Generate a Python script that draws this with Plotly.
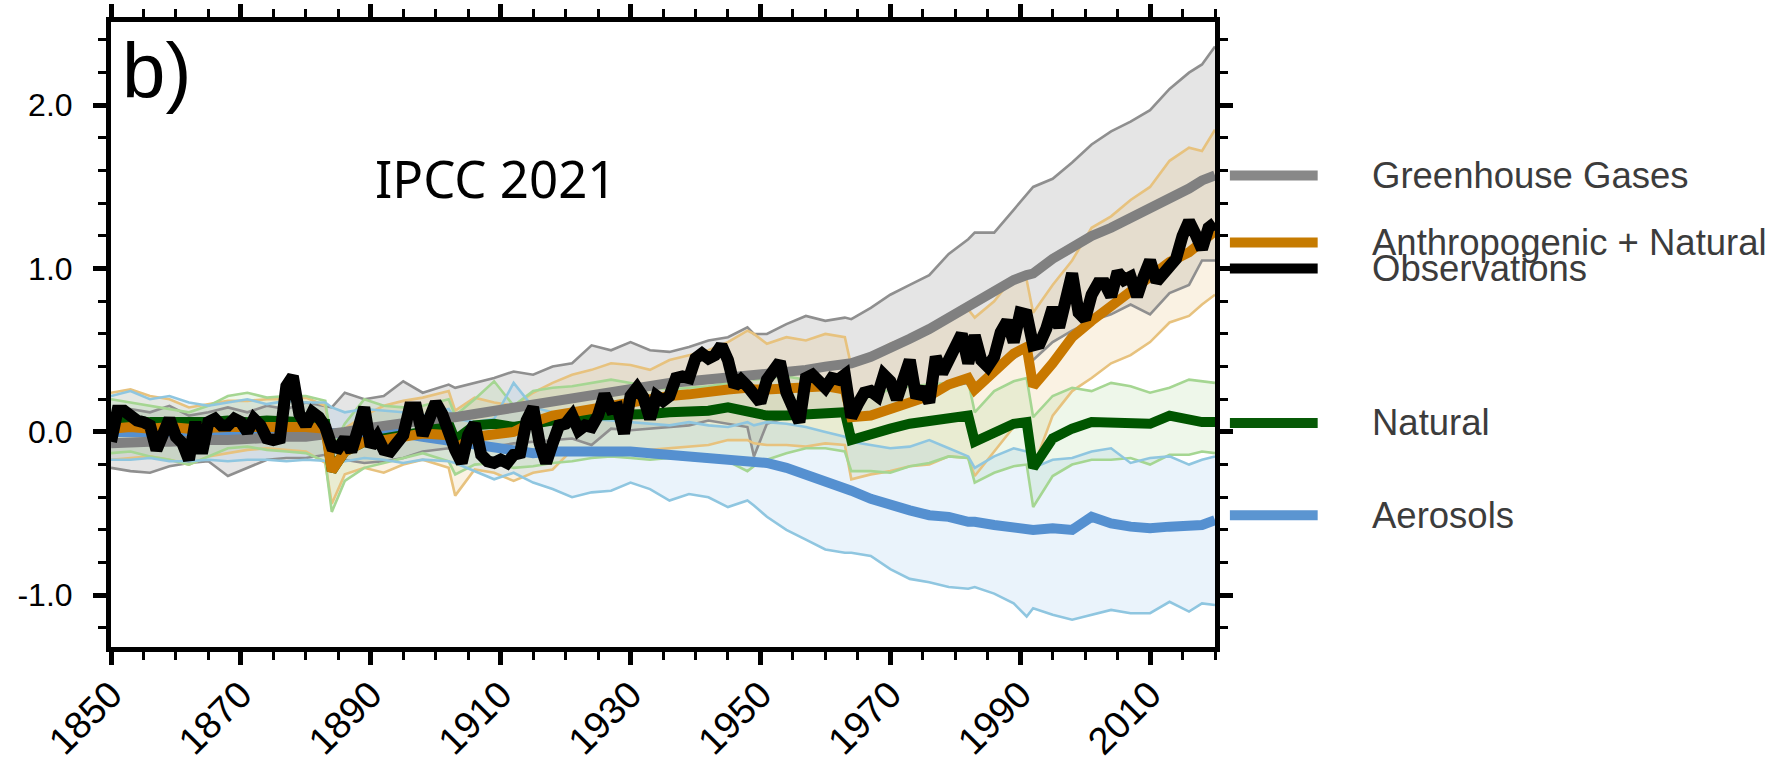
import plotly.graph_objects as go

# ---------------- data ----------------
YEARS = [1850, 1853, 1856, 1859, 1862, 1865, 1868, 1871, 1874, 1877,
         1880, 1883, 1884, 1886, 1889, 1892, 1895, 1898, 1902, 1903,
         1906, 1909, 1912, 1915, 1918, 1921, 1924, 1927, 1930, 1933,
         1936, 1939, 1942, 1945, 1948, 1949, 1951, 1954, 1957, 1960,
         1963, 1964, 1967, 1970, 1973, 1976, 1979, 1982, 1983, 1986,
         1989, 1991, 1992, 1995, 1998, 2001, 2004, 2007, 2010, 2013,
         2016, 2018, 2020]

GHG_MEAN = [-0.07, -0.06, -0.06, -0.06, -0.05, -0.05, -0.05, -0.04, -0.04, -0.03,
            -0.03, -0.02, -0.02, 0.00, 0.02, 0.04, 0.06, 0.07, 0.09, 0.09,
            0.11, 0.13, 0.15, 0.17, 0.19, 0.21, 0.23, 0.25, 0.27, 0.28,
            0.30, 0.31, 0.32, 0.33, 0.35, 0.35, 0.36, 0.37, 0.38, 0.40,
            0.42, 0.42, 0.46, 0.51, 0.57, 0.63, 0.70, 0.77, 0.79, 0.86,
            0.93, 0.96, 0.97, 1.06, 1.13, 1.20, 1.25, 1.31, 1.36, 1.42,
            1.49, 1.54, 1.57]
GHG_HI = [0.10, 0.14, 0.12, 0.16, 0.10, 0.12, 0.15, 0.12, 0.16, 0.14,
          0.18, 0.16, 0.15, 0.24, 0.20, 0.22, 0.31, 0.24, 0.29, 0.27,
          0.30, 0.33, 0.37, 0.35, 0.40, 0.42, 0.53, 0.50, 0.55, 0.50,
          0.49, 0.52, 0.56, 0.58, 0.64, 0.60, 0.60, 0.66, 0.71, 0.68,
          0.70, 0.69, 0.76, 0.84, 0.90, 0.96, 1.09, 1.18, 1.22, 1.22,
          1.36, 1.45, 1.50, 1.55, 1.65, 1.76, 1.84, 1.90, 1.97, 2.10,
          2.20, 2.25, 2.36]
GHG_LO = [-0.22, -0.24, -0.25, -0.21, -0.19, -0.18, -0.27, -0.22, -0.17, -0.16,
          -0.16, -0.14, -0.15, -0.17, -0.19, -0.18, -0.16, -0.12, -0.10, -0.11,
          -0.08, -0.09, -0.07, -0.06, -0.05, -0.04, -0.08, 0.02, 0.01, 0.02,
          0.03, 0.04, 0.07, 0.05, 0.03, -0.15, 0.05, 0.09, 0.10, 0.12,
          0.13, 0.08, 0.10, 0.12, 0.20, 0.25, 0.28, 0.30, 0.25, 0.38,
          0.45, 0.50, 0.44, 0.55, 0.62, 0.68, 0.72, 0.78, 0.72, 0.85,
          0.90, 1.05, 1.05]

ALL_MEAN = [0.02, 0.03, 0.02, 0.03, 0.02, 0.03, 0.03, 0.03, 0.03, 0.04,
            0.03, 0.02, -0.24, -0.12, -0.06, -0.05, -0.03, -0.01, -0.02, -0.10,
            -0.03, -0.02, 0.00, 0.06, 0.10, 0.12, 0.14, 0.17, 0.19, 0.20,
            0.22, 0.23, 0.25, 0.26, 0.27, 0.26, 0.26, 0.27, 0.27, 0.28,
            0.26, 0.09, 0.10, 0.14, 0.18, 0.22, 0.29, 0.33, 0.26, 0.36,
            0.48, 0.52, 0.28, 0.42, 0.58, 0.68, 0.77, 0.86, 0.96, 1.04,
            1.10, 1.17, 1.23]
ALL_HI = [0.24, 0.26, 0.22, 0.20, 0.15, 0.17, 0.19, 0.19, 0.20, 0.20,
          0.21, 0.16, -0.05, 0.02, 0.10, 0.16, 0.19, 0.21, 0.25, 0.13,
          0.21, 0.18, 0.16, 0.24, 0.30, 0.35, 0.38, 0.42, 0.41, 0.38,
          0.44, 0.47, 0.50, 0.55, 0.62, 0.60, 0.54, 0.58, 0.56, 0.60,
          0.58, 0.40, 0.47, 0.54, 0.58, 0.62, 0.72, 0.75, 0.70, 0.80,
          0.95, 0.93, 0.73, 0.90, 1.05, 1.25, 1.32, 1.42, 1.50, 1.66,
          1.74, 1.72, 1.85]
ALL_LO = [-0.17, -0.16, -0.15, -0.17, -0.20, -0.15, -0.13, -0.11, -0.10, -0.11,
          -0.12, -0.19, -0.44, -0.26, -0.22, -0.25, -0.20, -0.17, -0.22, -0.39,
          -0.23, -0.25, -0.30, -0.25, -0.23, -0.11, -0.14, -0.15, -0.12, -0.11,
          -0.10, -0.09, -0.08, -0.05, -0.05, -0.07, -0.08, -0.08, -0.09, -0.07,
          -0.08, -0.29, -0.26, -0.24, -0.21, -0.20, -0.15, -0.16, -0.27, -0.12,
          0.03, 0.07, -0.22, 0.10, 0.25, 0.33, 0.42, 0.47, 0.55, 0.67,
          0.71, 0.78, 0.84]

NAT_MEAN = [0.05, 0.07, 0.06, 0.06, 0.05, 0.06, 0.07, 0.06, 0.07, 0.07,
            0.06, 0.05, -0.24, -0.12, -0.06, -0.04, -0.02, 0.00, 0.05, -0.05,
            0.04, 0.05, 0.03, 0.05, 0.08, 0.09, 0.10, 0.10, 0.11, 0.11,
            0.12, 0.12, 0.13, 0.15, 0.12, 0.11, 0.10, 0.10, 0.11, 0.12,
            0.12, -0.05, -0.01, 0.02, 0.05, 0.07, 0.08, 0.10, -0.06, 0.00,
            0.05, 0.06, -0.22, -0.04, 0.02, 0.06, 0.06, 0.05, 0.05, 0.10,
            0.07, 0.06, 0.06]
NAT_HI = [0.20, 0.18, 0.16, 0.14, 0.12, 0.16, 0.22, 0.24, 0.21, 0.22,
          0.22, 0.19, -0.10, 0.05, 0.20, 0.16, 0.15, 0.16, 0.20, 0.10,
          0.20, 0.31, 0.16, 0.25, 0.27, 0.28, 0.30, 0.32, 0.30, 0.28,
          0.26, 0.27, 0.28, 0.30, 0.34, 0.32, 0.33, 0.34, 0.32, 0.31,
          0.30, 0.17, 0.22, 0.26, 0.28, 0.29, 0.30, 0.31, 0.12, 0.25,
          0.31, 0.33, 0.09, 0.22, 0.27, 0.25, 0.30, 0.28, 0.24, 0.27,
          0.32, 0.31, 0.30]
NAT_LO = [-0.13, -0.12, -0.15, -0.17, -0.20, -0.15, -0.10, -0.09, -0.11, -0.12,
          -0.13, -0.18, -0.49, -0.30, -0.22, -0.19, -0.16, -0.13, -0.18, -0.26,
          -0.20, -0.19, -0.22, -0.21, -0.19, -0.18, -0.16, -0.15, -0.16, -0.17,
          -0.16, -0.17, -0.18, -0.18, -0.24, -0.21, -0.17, -0.13, -0.10, -0.10,
          -0.12, -0.24, -0.24, -0.25, -0.21, -0.19, -0.15, -0.16, -0.31, -0.25,
          -0.21, -0.20, -0.46, -0.27, -0.20, -0.17, -0.17, -0.16, -0.20, -0.14,
          -0.14, -0.12, -0.13]

AER_MEAN = [0.00, 0.00, -0.01, 0.00, 0.00, -0.01, 0.00, 0.00, 0.00, -0.01,
            0.00, 0.00, 0.00, 0.00, -0.01, 0.00, -0.01, -0.03, -0.05, -0.06,
            -0.08, -0.09, -0.11, -0.13, -0.12, -0.12, -0.11, -0.11, -0.12, -0.13,
            -0.14, -0.15, -0.16, -0.17, -0.18, -0.18, -0.19, -0.22, -0.26, -0.30,
            -0.34, -0.36, -0.41, -0.45, -0.48, -0.51, -0.52, -0.55, -0.55, -0.57,
            -0.58, -0.60, -0.60, -0.59, -0.60, -0.52, -0.56, -0.58, -0.59, -0.58,
            -0.57, -0.57, -0.54]
AER_HI = [0.22, 0.25, 0.20, 0.22, 0.18, 0.16, 0.18, 0.20, 0.17, 0.19,
          0.18, 0.18, 0.15, 0.12, 0.14, 0.13, 0.12, 0.10, 0.14, 0.08,
          0.06, 0.08, 0.30, 0.15, 0.12, 0.10, 0.08, 0.07, 0.06, 0.05,
          0.04, 0.06, 0.04, 0.03, 0.06, 0.04, 0.06, 0.05, 0.03, 0.00,
          -0.03, -0.06, -0.08, -0.10, -0.09, -0.05, -0.10, -0.15, -0.22, -0.15,
          -0.10, -0.12, -0.22, -0.17, -0.16, -0.12, -0.10, -0.19, -0.16, -0.15,
          -0.20, -0.17, -0.15]
AER_LO = [-0.17, -0.17, -0.16, -0.18, -0.18, -0.17, -0.18, -0.17, -0.17, -0.18,
          -0.17, -0.18, -0.18, -0.18, -0.16, -0.17, -0.19, -0.17, -0.18, -0.19,
          -0.24, -0.29, -0.25, -0.31, -0.35, -0.40, -0.37, -0.36, -0.31, -0.35,
          -0.42, -0.38, -0.40, -0.46, -0.42, -0.45, -0.52, -0.60, -0.66, -0.72,
          -0.74, -0.74, -0.76, -0.84, -0.90, -0.92, -0.95, -0.96, -0.95, -0.99,
          -1.05, -1.13, -1.08, -1.12, -1.15, -1.12, -1.09, -1.11, -1.11, -1.04,
          -1.10, -1.05, -1.06]

OBS_YEARS = list(range(1850, 2021))
OBS = [-0.06, 0.13, 0.13, 0.09, 0.07, 0.06, 0.04, -0.11, -0.03, 0.08,
       -0.03, -0.07, -0.17, 0.06, -0.13, 0.06, 0.08, 0.04, 0.04, 0.08,
       0.06, 0.00, 0.08, 0.04, -0.04, -0.05, -0.04, 0.28, 0.34, 0.11,
       0.04, 0.12, 0.09, 0.03, -0.09, -0.10, -0.04, -0.12, 0.01, 0.15,
       -0.09, -0.03, -0.11, -0.12, -0.07, -0.02, 0.15, 0.15, -0.02, 0.10,
       0.18, 0.11, -0.01, -0.11, -0.19, -0.02, 0.05, -0.14, -0.18, -0.19,
       -0.17, -0.19, -0.14, -0.13, 0.07, 0.15, -0.07, -0.19, -0.07, 0.04,
       0.05, 0.10, 0.01, 0.04, 0.03, 0.10, 0.23, 0.14, 0.15, -0.01,
       0.22, 0.27, 0.21, 0.08, 0.22, 0.19, 0.22, 0.33, 0.34, 0.33,
       0.45, 0.48, 0.45, 0.47, 0.53, 0.44, 0.28, 0.32, 0.28, 0.23,
       0.18, 0.32, 0.39, 0.43, 0.24, 0.14, 0.06, 0.33, 0.35, 0.31,
       0.27, 0.33, 0.32, 0.35, 0.09, 0.17, 0.24, 0.25, 0.22, 0.35,
       0.31, 0.20, 0.30, 0.44, 0.21, 0.27, 0.18, 0.46, 0.36, 0.44,
       0.54, 0.60, 0.42, 0.59, 0.44, 0.40, 0.46, 0.61, 0.68, 0.55,
       0.73, 0.72, 0.53, 0.54, 0.63, 0.76, 0.64, 0.83, 0.97, 0.73,
       0.69, 0.84, 0.91, 0.91, 0.83, 0.98, 0.93, 0.95, 0.83, 0.95,
       1.05, 0.92, 0.96, 1.00, 1.06, 1.20, 1.29, 1.21, 1.12, 1.25,
       1.28]

X_TICKS = [1850, 1870, 1890, 1910, 1930, 1950, 1970, 1990, 2010]
Y_TICKS = [-1.0, 0.0, 1.0, 2.0]
Y_TICK_LABELS = ["-1.0", "0.0", "1.0", "2.0"]

LEGEND_LABELS = ["Greenhouse Gases", "Anthropogenic + Natural", "Observations", "Natural", "Aerosols"]
LEGEND_COLORS = ["#888888", "#c67b00", "#000000", "#075a07", "#5b95d1"]
LEGEND_Y = [1.57, 1.16, 1.00, 0.055, -0.51]

X_RANGE = [1850, 2020]
Y_RANGE = [-1.317, 2.51]

FONT = "Liberation Sans, Arial, Helvetica, sans-serif"

# ---------------- figure ----------------
fig = go.Figure()

bands = [
    (GHG_LO, GHG_HI, "rgba(160,160,160,0.28)", "#8f8f8f"),
    (ALL_LO, ALL_HI, "rgba(232,188,115,0.20)", "#e7c27e"),
    (NAT_LO, NAT_HI, "rgba(140,200,115,0.15)", "#a5d692"),
    (AER_LO, AER_HI, "rgba(125,180,230,0.16)", "#8fc6e0"),
]

# filled envelopes
for lo, hi, fillc, _ in bands:
    fig.add_trace(go.Scatter(x=YEARS, y=lo, mode="lines", line=dict(width=0, color=fillc),
                             showlegend=False, hoverinfo="skip"))
    fig.add_trace(go.Scatter(x=YEARS, y=hi, mode="lines", line=dict(width=0, color=fillc),
                             fill="tonexty", fillcolor=fillc, showlegend=False, hoverinfo="skip"))

# envelope edges
for lo, hi, _, edgec in bands:
    for arr in (lo, hi):
        fig.add_trace(go.Scatter(x=YEARS, y=arr, mode="lines", line=dict(width=2.6, color=edgec),
                                 showlegend=False, hoverinfo="skip"))

# ensemble means
means = [
    (AER_MEAN, "#5590d0"),
    (NAT_MEAN, "#005500"),
    (GHG_MEAN, "#808080"),
    (ALL_MEAN, "#c87800"),
]
for arr, col in means:
    fig.add_trace(go.Scatter(x=YEARS, y=arr, mode="lines", line=dict(width=10, color=col),
                             showlegend=False, hoverinfo="skip"))

# observations
fig.add_trace(go.Scatter(x=OBS_YEARS, y=OBS, mode="lines", line=dict(width=12, color="#000000"),
                         showlegend=False, hoverinfo="skip"))

# ---------------- legend (end labels) ----------------
def ypaper(v):
    return (v - Y_RANGE[0]) / (Y_RANGE[1] - Y_RANGE[0])

shapes = []
annotations = []
for lab, col, yv in zip(LEGEND_LABELS, LEGEND_COLORS, LEGEND_Y):
    yp = ypaper(yv)
    shapes.append(dict(type="line", xref="paper", yref="paper", x0=1.0135, x1=1.093, y0=yp, y1=yp,
                       line=dict(color=col, width=10)))
    annotations.append(dict(text=lab, xref="paper", yref="paper", x=1.140, y=yp,
                            xanchor="left", yanchor="middle", showarrow=False,
                            font=dict(family=FONT, size=36.5, color="#3c3c3c")))

annotations.append(dict(text="b)", xref="paper", yref="paper", x=0.008, y=0.922,
                        xanchor="left", yanchor="middle", showarrow=False,
                        font=dict(family=FONT, size=78, color="#000000")))
annotations.append(dict(text="IPCC 2021", xref="paper", yref="paper", x=0.3487, y=0.7504,
                        xanchor="center", yanchor="middle", showarrow=False,
                        font=dict(family="Noto Sans, sans-serif", size=51, color="#000000")))

axis_common = dict(showline=True, linewidth=5, linecolor="#000000", mirror="allticks",
                   ticks="outside", ticklen=13, tickwidth=5, tickcolor="#000000",
                   showgrid=False, zeroline=False, automargin=False)

fig.update_layout(
    width=1773, height=767,
    margin=dict(l=111, r=558, t=22, b=120),
    paper_bgcolor="#ffffff", plot_bgcolor="#ffffff",
    showlegend=False,
    shapes=shapes, annotations=annotations,
    xaxis=dict(range=X_RANGE, tickmode="array", tickvals=X_TICKS, tickangle=-45,
               ticklabelstandoff=-8,
               tickfont=dict(family=FONT, size=38, color="#000000"),
               minor=dict(dtick=5, tick0=1850, ticks="outside", ticklen=8, tickwidth=3,
                          tickcolor="#000000", showgrid=False),
               **axis_common),
    yaxis=dict(range=Y_RANGE, tickmode="array", tickvals=Y_TICKS, ticktext=Y_TICK_LABELS,
               ticklabelstandoff=14,
               tickfont=dict(family=FONT, size=32, color="#000000"),
               minor=dict(dtick=0.2, tick0=0, ticks="outside", ticklen=8, tickwidth=3,
                          tickcolor="#000000", showgrid=False),
               **axis_common),
)

fig.write_html("out.html")
